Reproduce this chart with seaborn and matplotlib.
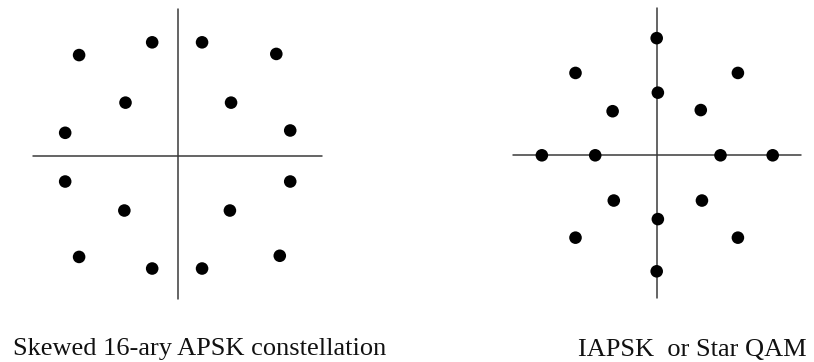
import matplotlib
matplotlib.use("Agg")
import matplotlib.pyplot as plt
import pandas as pd
import seaborn as sns

sns.set_style("white")
plt.rcParams["font.family"] = ["Liberation Serif", "DejaVu Serif"]

# Skewed 16-ary APSK: in-phase / quadrature coordinates (outer radius ~ 1)
apsk_i = [-0.85, -0.22, 0.21, 0.85, -0.45, 0.46, -0.97, 0.97,
          -0.97, 0.97, -0.46, 0.45, -0.85, -0.22, 0.21, 0.88]
apsk_q = [0.87, 0.98, 0.98, 0.88, 0.46, 0.46, 0.20, 0.22,
          -0.22, -0.22, -0.47, -0.47, -0.87, -0.97, -0.97, -0.86]

# IAPSK / Star QAM: two rings of eight points on common phases
star_i = [0.00, -0.70, 0.70, 0.01, -0.38, 0.38, -0.99, -0.53,
          0.55, 1.00, -0.37, 0.39, 0.01, -0.70, 0.70, 0.00]
star_q = [1.01, 0.71, 0.71, 0.54, 0.38, 0.39, 0.00, 0.00,
          0.00, 0.00, -0.39, -0.39, -0.55, -0.71, -0.71, -1.00]

titles = ["Skewed 16-ary APSK constellation", "IAPSK  or Star QAM"]

# axis extents drawn as cross-hairs: (x_min, x_max, y_min, y_max)
apsk_axes = (-1.25, 1.24, -1.23, 1.27)
star_axes = (-1.24, 1.24, -1.23, 1.27)

W, H = 814, 362
fig = plt.figure(figsize=(W / 100, H / 100), dpi=100)

unit = 116.0  # pixels per constellation unit
xl, yl = 1.35, 1.30
aw, ah = 2 * xl * unit, 2 * yl * unit

panels = [
    (apsk_i, apsk_q, apsk_axes, (177.7, 156.0), titles[0], 13),
    (star_i, star_q, star_axes, (656.7, 155.3), titles[1], 578),
]

for xi, yq, ext, (cx, cy), title, tx in panels:
    left = (cx - aw / 2) / W
    bottom = (H - cy - ah / 2) / H
    ax = fig.add_axes([left, bottom, aw / W, ah / H])
    ax.plot([ext[0], ext[1]], [0, 0], color="#3a3a3a", lw=1.1, zorder=1)
    ax.plot([0, 0], [ext[2], ext[3]], color="#3a3a3a", lw=1.1, zorder=1)
    df = pd.DataFrame({"I": xi, "Q": yq})
    sns.scatterplot(data=df, x="I", y="Q", ax=ax, s=82, color="black",
                    edgecolor="none", linewidth=0, zorder=3)
    ax.set_xlim(-xl, xl)
    ax.set_ylim(-yl, yl)
    ax.set_axis_off()
    fig.text(tx / W, 1 - 355.5 / H, title, ha="left", va="baseline",
             fontsize=19, color="#111111")

fig.savefig("out.png", dpi=100, facecolor="white")
